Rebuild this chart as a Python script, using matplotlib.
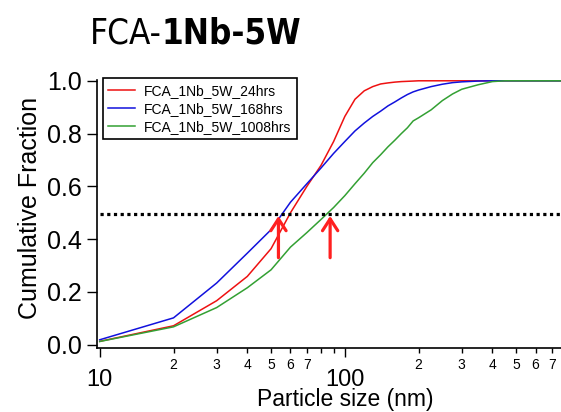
import matplotlib
matplotlib.use('Agg')
import matplotlib.pyplot as plt
from matplotlib import font_manager

# Particle size bins (nm)
sizes = [10, 20, 30, 40, 50, 60, 70, 80, 90, 100, 110, 120, 130, 140, 150,
         160, 170, 180, 190, 200, 225, 250, 275, 300, 350, 400, 450, 800]

# Cumulative fractions
frac_24 = [0.013, 0.072, 0.167, 0.259, 0.364, 0.50, 0.60, 0.68, 0.77, 0.865,
           0.93, 0.962, 0.978, 0.988, 0.992, 0.995, 0.997, 0.998, 0.999, 1.0,
           1.0, 1.0, 1.0, 1.0, 1.0, 1.0, 1.0, 1.0]
frac_168 = [0.019, 0.102, 0.234, 0.347, 0.436, 0.54, 0.61, 0.67, 0.725, 0.77,
            0.81, 0.84, 0.865, 0.885, 0.905, 0.92, 0.935, 0.948, 0.958, 0.965,
            0.978, 0.987, 0.993, 0.996, 0.999, 1.0, 1.0, 1.0]
frac_1008 = [0.0125, 0.068, 0.141, 0.216, 0.284, 0.37, 0.425, 0.475, 0.52, 0.565,
             0.61, 0.65, 0.69, 0.72, 0.75, 0.775, 0.80, 0.822, 0.848, 0.86,
             0.89, 0.925, 0.95, 0.968, 0.985, 0.997, 1.0, 1.0]

labels = ['FCA_1Nb_5W_24hrs', 'FCA_1Nb_5W_168hrs', 'FCA_1Nb_5W_1008hrs']
colors = ['#ee1111', '#1111dd', '#33a033']

half_level = 0.495
d50_marks = [53.6, 87.1]

# look for a narrow face for the title, otherwise shrink regular one
title_kw = dict(family='Liberation Sans', fontsize=24)
for f in font_manager.fontManager.ttflist:
    if 'Narrow' in f.name or 'Condensed' in f.name:
        title_kw = dict(family=f.name, fontsize=28)
        break
    if f.stretch in ('condensed', 'semi-condensed') and f.name == 'DejaVu Sans':
        title_kw = dict(family=f.name, fontsize=25, fontstretch='condensed')
        break

plt.rcParams['font.family'] = ['Liberation Sans', 'DejaVu Sans']

W, H = 561, 412
fig = plt.figure(figsize=(W / 100, H / 100), dpi=100)
ax = fig.add_axes([96.7 / W, 1 - 347.7 / H, (W - 96.7) / W, (347.7 - 80) / H])

for y, lab, c in zip([frac_24, frac_168, frac_1008], labels, colors):
    ax.plot(sizes, y, color=c, lw=1.1, label=lab)

ax.plot([10, 800], [half_level, half_level], color='black', lw=2.3,
        linestyle=(0, (1, 1.1)), solid_capstyle='butt')

for xm in d50_marks:
    ax.annotate('', xy=(xm, 0.488), xytext=(xm, 0.33),
                arrowprops=dict(arrowstyle='->,head_length=0.85,head_width=0.55',
                                color='#ff2020', lw=2.3, mutation_scale=10,
                                shrinkA=0, shrinkB=0))

ax.set_xscale('log')
ax.set_xlim(9.72, 762)
ax.set_ylim(-0.011, 1.003)

ax.spines['top'].set_visible(False)
ax.spines['right'].set_visible(False)
for s in ['left', 'bottom']:
    ax.spines[s].set_linewidth(1.2)

ax.set_yticks([0.0, 0.2, 0.4, 0.6, 0.8, 1.0])
ax.set_yticklabels(['0.0', '0.2', '0.4', '0.6', '0.8', '1.0'])
ax.tick_params(axis='y', length=7.2, width=1.0, pad=3.6, labelsize=18)

ax.set_xticks([10, 100])
ax.set_xticklabels(['10', '100'])
minor = [20, 30, 40, 50, 60, 70, 80, 90, 200, 300, 400, 500, 600, 700]
minor_lab = ['2', '3', '4', '5', '6', '7', '', '', '2', '3', '4', '5', '6', '7']
ax.set_xticks(minor, minor=True)
ax.set_xticklabels(minor_lab, minor=True)
ax.tick_params(axis='x', which='major', length=6.5, width=1.0, pad=9, labelsize=17)
ax.tick_params(axis='x', which='minor', length=3.6, width=1.0, pad=3.5, labelsize=10)

ax.set_xlabel('Particle size (nm)', fontsize=16.5, va='bottom')
ax.xaxis.set_label_coords(0.535, -0.2375)
ax.set_ylabel('Cumulative Fraction', fontsize=18, va='center')
ax.yaxis.set_label_coords(-0.1437, 0.522)

leg = ax.legend(loc='upper left', bbox_to_anchor=(0.013, 1.0075), fontsize=10,
                borderaxespad=0, handlelength=1.95, handletextpad=0.6,
                labelspacing=0.3, borderpad=0.4, fancybox=False,
                edgecolor='black', framealpha=1)
leg.get_frame().set_linewidth(1.2)

# title: normal part then bold part
t1 = fig.text(90 / W, 1 - 43 / H, 'FCA-', ha='left', va='baseline', **title_kw)
fig.canvas.draw()
bb = t1.get_window_extent()
fig.text(bb.x1 / W, 1 - 43 / H, '1Nb-5W', fontweight='bold', ha='left',
         va='baseline', **title_kw)

fig.savefig('out.png', dpi=100)
